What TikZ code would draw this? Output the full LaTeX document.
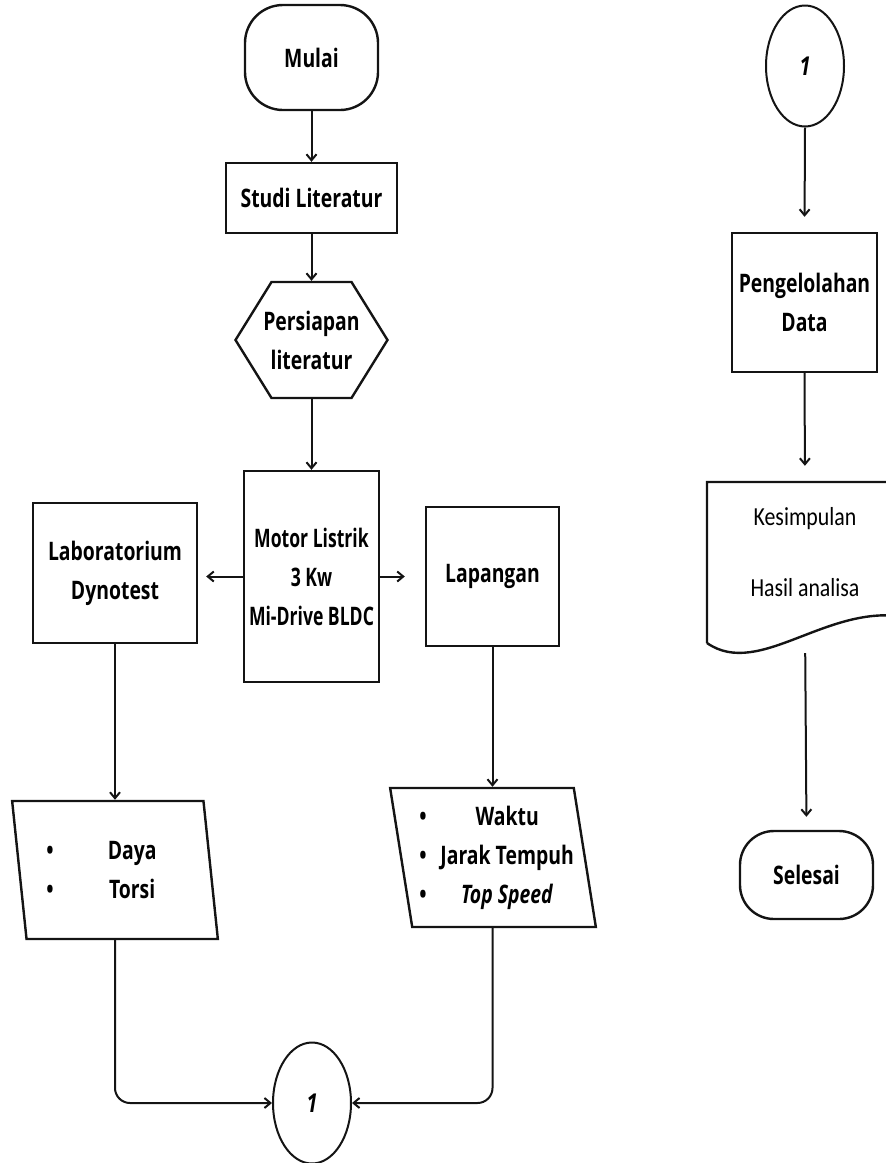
\documentclass[tikz,border=0pt]{standalone}
\usepackage{fontspec}
\setmainfont{Open Sans}[FakeStretch=0.76]
\newfontfamily\narrowfont{Open Sans}[FakeStretch=0.69]
\newfontfamily\docfont{Carlito}[FakeStretch=0.84]
\usetikzlibrary{shapes.geometric,arrows.meta}
\definecolor{flowcolor0000}{RGB}{20,20,20}

\begin{document}
\begin{tikzpicture}[yscale=-1
,pstyle1/.style={draw=flowcolor0000,line width=2.4pt,align=center,inner sep=0pt,font=\bfseries\fontsize{25.5}{39}\selectfont}
,pstyle2/.style={color=flowcolor0000,line width=2pt,-{Straight Barb[length=6pt,width=10pt]}}
,pstyle3/.style={pstyle1,trapezium,trapezium left angle=101,trapezium right angle=79,trapezium stretches=true}
,pstyle4/.style={pstyle1,ellipse,line width=2pt,minimum width=78pt,minimum height=121pt,font=\bfseries\itshape\fontsize{26}{39}\selectfont}
]
\useasboundingbox (0pt,0pt) rectangle (886pt,1163pt);
\clip (0pt,0pt) rectangle (886pt,1163pt);
\node[pstyle1,rounded corners=38pt,minimum width=133pt,minimum height=105pt] (mulai) at (311.5pt,57.5pt) {Mulai};
\node[pstyle1,minimum width=171pt,minimum height=70pt] (studi) at (311.5pt,198pt) {Studi Literatur};
\node[pstyle1,draw=none,minimum width=152pt,minimum height=116pt] (persiapan) at (311.5pt,340pt) {Persiapan\\literatur};
\draw[color=flowcolor0000,line width=2.4pt] (235.5pt,340pt) -- (271.5pt,282pt) -- (351.5pt,282pt) -- (387.5pt,340pt) -- (351.5pt,398pt) -- (271.5pt,398pt) -- cycle;
\node[pstyle1,font=\narrowfont\bfseries\fontsize{25.5}{39}\selectfont,minimum width=135pt,minimum height=211pt] (motor) at (311.5pt,576.5pt) {Motor Listrik\\3 Kw\\Mi-Drive BLDC};
\node[pstyle1,minimum width=164pt,minimum height=140pt] (lab) at (115pt,573pt) {Laboratorium\\Dynotest};
\node[pstyle1,minimum width=133pt,minimum height=139pt] (lapangan) at (492.5pt,576.5pt) {Lapangan};
\node[pstyle3,minimum width=206pt,minimum height=138pt] (daya) at (115pt,870pt) {\textbullet\hspace{27pt}\makebox[103pt]{Daya}\\\textbullet\hspace{27pt}\makebox[103pt]{Torsi}};
\node[pstyle3,minimum width=206pt,minimum height=139pt] (waktu) at (493pt,857.5pt) {\textbullet\hspace{21pt}\makebox[119pt]{Waktu}\\\textbullet\hspace{21pt}\makebox[119pt]{Jarak Tempuh}\\\textbullet\hspace{21pt}\makebox[119pt]{\textit{Top Speed}}};
\node[pstyle4] (hubung) at (312pt,1103pt) {1};
% halaman kanan
\node[pstyle4] (hubung2) at (805pt,66pt) {1};
\node[pstyle1,minimum width=145pt,minimum height=139pt] (olah) at (804.5pt,302.5pt) {Pengelolahan\\Data};
\node[pstyle1,draw=none,font=\docfont\fontsize{26}{30}\selectfont,minimum height=140pt] (hasil) at (805pt,552pt) {Kesimpulan\\[41pt]Hasil analisa};
\draw[color=flowcolor0000,line width=2.4pt] (707pt,643pt) -- (707pt,482pt) -- (910pt,482pt) -- (910pt,618pt) .. controls (830pt,600pt) and (760pt,680pt) .. (707pt,643pt);
\node[pstyle1,rounded corners=34pt,minimum width=133pt,minimum height=88pt] (selesai) at (806.5pt,875pt) {Selesai};
% panah
\draw[pstyle2] (mulai.south) -- (studi.north);
\draw[pstyle2] (studi.south) -- (persiapan.north);
\draw[pstyle2] (persiapan.south) -- (motor.north);
\draw[pstyle2,shorten >=8pt] (motor.west) -- (motor.west -| lab.east);
\draw[pstyle2,shorten >=20pt] (motor.east) -- (motor.east -| lapangan.west);
\draw[pstyle2] (lab.south) -- (lab.south |- daya.north);
\draw[pstyle2] (lapangan.south) -- (lapangan.south |- waktu.north);
\draw[pstyle2,rounded corners=15pt] (lab.south |- daya.south) |- (hubung.west);
\draw[pstyle2,rounded corners=15pt] (lapangan.south |- waktu.south) |- (hubung.east);
\draw[pstyle2,shorten >=15pt] (hubung2.south) -- (olah.north);
\draw[pstyle2,shorten >=15pt] (olah.south) -- (hasil.north);
\draw[pstyle2,shorten <=30pt,shorten >=13pt] (hasil.south) -- (selesai.north);
\end{tikzpicture}
\end{document}
